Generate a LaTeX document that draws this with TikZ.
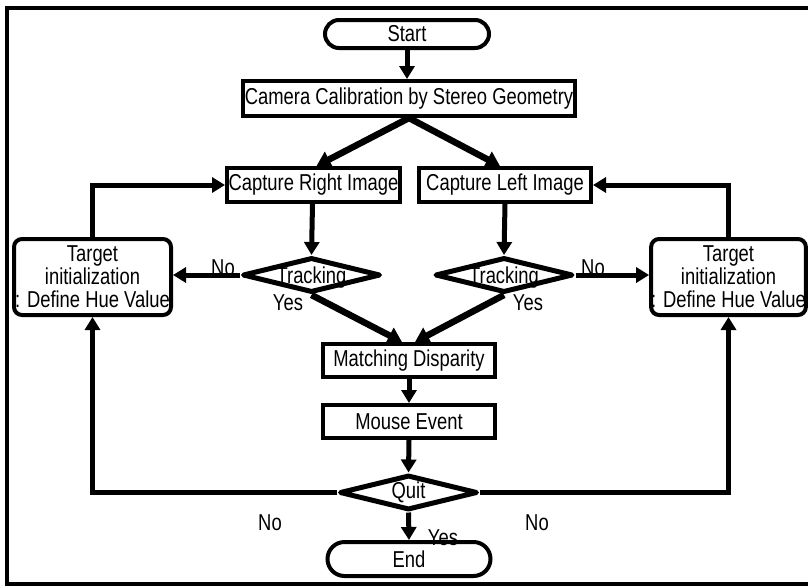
\documentclass[tikz,border=0pt]{standalone}
\usepackage{fontspec}
\setmainfont{Liberation Sans}[FakeStretch=0.8]
\usetikzlibrary{shapes.geometric,shapes.misc,arrows.meta}
\begin{document}
\begin{tikzpicture}[x=1pt,y=-1pt,
  every node/.style={font=\fontsize{23}{23}\selectfont, inner sep=0pt},
  box/.style={draw, line width=4pt, rectangle},
  term/.style={draw, line width=4pt, rounded rectangle},
  dec/.style={draw, line width=5pt, diamond, line join=round, minimum width=138pt, minimum height=35pt, aspect=3.5},
  tbox/.style={draw, line width=4pt, rounded corners=8pt, align=center, minimum height=76pt},
  conn/.style={line width=5pt, -{Triangle[length=13pt,width=15pt]}},
  diag/.style={line width=6.5pt, -{Triangle[length=14pt,width=17pt]}},
  frame/.style={line width=4pt}]
\useasboundingbox (0,0) rectangle (808,587);
\draw[frame] (808,8) -- (7,8) -- (7,584) -- (808,584);

\node[term, minimum width=164pt, minimum height=28pt] (start) at (407,34) {Start};
\node[box, minimum width=332pt, minimum height=35pt] (calib) at (409,98.5) {Camera Calibration by Stereo Geometry};
\node[box, minimum width=173pt, minimum height=34pt] (capR) at (313.5,185) {Capture Right Image};
\node[box, minimum width=172pt, minimum height=34pt] (capL) at (505,185) {Capture Left Image};
\node[dec, label={[yshift=-3pt]center:Tracking}] (trkR) at (311.5,275) {};
\node[dec, label={[yshift=-3pt]center:Tracking}] (trkL) at (504,275) {};
\node[tbox, minimum width=157pt] (tgtL) at (92.5,277) {Target\\initialization\\: Define Hue Value};
\node[tbox, minimum width=151pt] (tgtR) at (728.5,277) {Target\\initialization\\: Define Hue Value};
\node[box, minimum width=172pt, minimum height=33pt] (match) at (409,360.5) {Matching Disparity};
\node[box, minimum width=172pt, minimum height=33pt] (mouse) at (409,421.5) {Mouse Event};
\node[dec, label={center:Quit}] (quit) at (408.5,492.5) {};
\node[term, minimum width=163pt, minimum height=34pt] (end) at (409,559) {End};

\draw[conn] (start.south) -- (start.south |- calib.north);
\draw[diag] (calib.south) -- ([xshift=3pt]capR.north);
\draw[diag] (calib.south) -- ([xshift=-5pt]capL.north);
\draw[conn] ([xshift=-1pt]capR.south) -- (trkR.north);
\draw[conn] (capL.south) -- (trkL.north);
\draw[conn] (trkR.west) -- (trkR.west -| tgtL.east);
\draw[conn] (trkL.east) -- (trkL.east -| tgtR.west);
\draw[diag] (trkR.south) -- ([xshift=-7pt]match.north);
\draw[diag] (trkL.south) -- ([xshift=6pt]match.north);
\draw[conn] (tgtL.north) |- (capR.west);
\draw[conn] (tgtR.north) |- (capL.east);
\draw[conn] (match.south) -- (mouse.north);
\draw[conn] (mouse.south) -- (quit.north);
\draw[conn] (quit.south) -- (end.north);
\draw[conn] (quit.west) -| (tgtL.south);
\draw[conn] (quit.east) -| (tgtR.south);

\node (noR) at (223,268) {No};
\node (yesR) at (288,303) {Yes};
\node (noL) at (593,268) {No};
\node (yesL) at (528,303) {Yes};
\node (noQL) at (270,523) {No};
\node (noQR) at (537,523) {No};
\node (yesQ) at (443,538) {Yes};
\end{tikzpicture}
\end{document}
